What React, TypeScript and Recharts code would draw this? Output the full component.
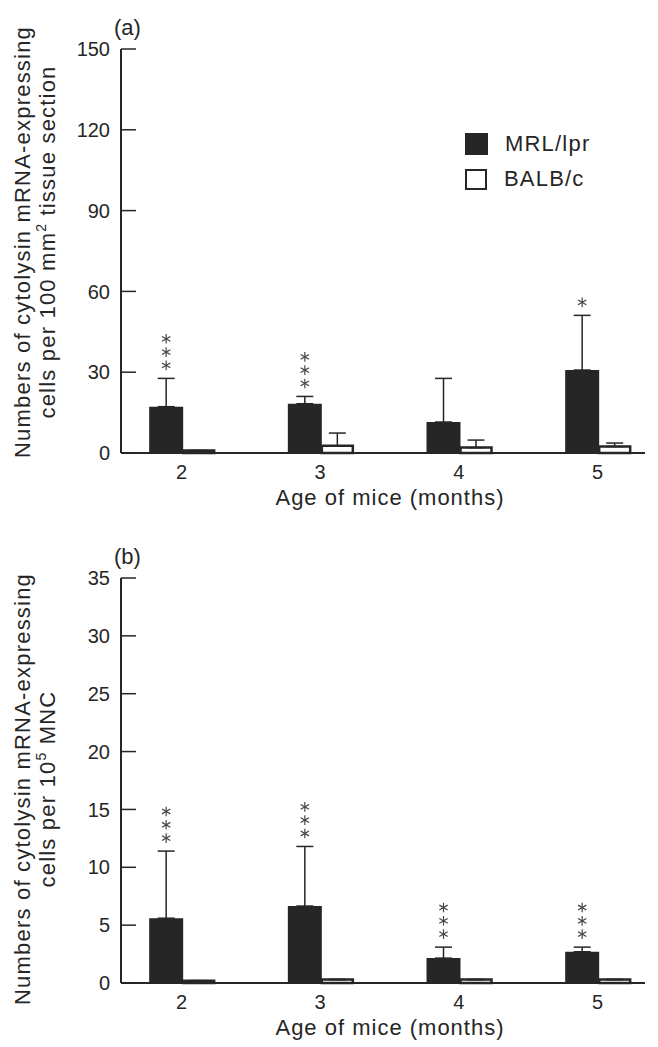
import { BarChart, Bar, XAxis, YAxis, ErrorBar, LabelList, Label } from "recharts";

// ages on the x axis (months)
const ages = [2, 3, 4, 5];

// panel (a): per 100 mm2 tissue section
const tissueMrl = [17.2, 18.3, 11.5, 30.8];
const tissueMrlSd = [10.5, 2.7, 16.2, 20.3];
const tissueBalb = [0.9, 2.7, 2.0, 2.4];
const tissueBalbSd = [0, 4.7, 2.8, 1.3];
const tissueStars = [3, 3, 0, 1];
const tissueTicks = [0, 30, 60, 90, 120, 150];

// panel (b): per 10^5 MNC
const mncMrl = [5.6, 6.65, 2.15, 2.7];
const mncMrlSd = [5.8, 5.15, 0.95, 0.4];
const mncBalb = [0.2, 0.3, 0.3, 0.3];
const mncBalbSd = [0, 0, 0, 0];
const mncStars = [3, 3, 3, 3];
const mncTicks = [0, 5, 10, 15, 20, 25, 30, 35];

const legendItems = [
  { name: "MRL/lpr", filled: true },
  { name: "BALB/c", filled: false },
];

const INK = "#262626";
const FONT = "'Liberation Sans', Arial, Helvetica, sans-serif";
const Y_TICK_GAP = 11;
const Y_AXIS_W = 60;
const X_AXIS_H = 30;

function buildRows(mrl: number[], mrlSd: number[], balb: number[], balbSd: number[]) {
  return ages.map((age, i) => ({
    age,
    mrl: mrl[i],
    balb: balb[i],
    mrlErr: [0, mrlSd[i]],
    balbErr: [0, balbSd[i]],
  }));
}

function Asterisk({ cx, cy }: { cx: number; cy: number }) {
  const r = 4.8;
  const dx = r * Math.cos(Math.PI / 6);
  const dy = r * Math.sin(Math.PI / 6);
  return (
    <g stroke="#444" strokeWidth={1.2}>
      <line x1={cx} y1={cy - r} x2={cx} y2={cy + r} />
      <line x1={cx - dx} y1={cy - dy} x2={cx + dx} y2={cy + dy} />
      <line x1={cx - dx} y1={cy + dy} x2={cx + dx} y2={cy - dy} />
    </g>
  );
}

function starsContent(stars: number[], sd: number[], values: number[]) {
  return (props: any) => {
    const { x, y, width, height, value } = props;
    let idx = props.index;
    if (idx == null) idx = values.indexOf(Number(value));
    const n = stars[idx];
    if (!n) return null;
    const perUnit = height / Number(value);
    const errTop = y - sd[idx] * perUnit;
    const cx = x + width / 2;
    return (
      <g>
        {Array.from({ length: n }, (_, i) => (
          <Asterisk key={i} cx={cx} cy={errTop - 13 - 13.3 * i} />
        ))}
      </g>
    );
  };
}

const YTick = (props: any) => {
  const { x, y, payload } = props;
  const axisX = x + Y_TICK_GAP;
  return (
    <g>
      <line x1={axisX} x2={axisX + 15} y1={y} y2={y} stroke={INK} strokeWidth={1.5} />
      <text x={x} y={y} dy="0.36em" textAnchor="end" fontSize={20} fill={INK} fontFamily={FONT}>
        {payload.value}
      </text>
    </g>
  );
};

type Panel = {
  rows: ReturnType<typeof buildRows>;
  yTicks: number[];
  stars: number[];
  mrlSd: number[];
  mrl: number[];
  top: number;
  height: number;
  plotTop: number;
  plotBottom: number;
  letter: string;
  titleShift: number;
  titleLine2: [string, string, string];
  showLegend?: boolean;
};

function PanelChart(p: Panel) {
  const yMax = p.yTicks[p.yTicks.length - 1];
  const margin = {
    top: p.plotTop,
    right: 13,
    bottom: p.height - p.plotBottom - X_AXIS_H,
    left: 121 - Y_AXIS_W,
  };
  return (
    <div style={{ position: "absolute", left: 0, top: p.top }}>
      <BarChart width={658} height={p.height} data={p.rows} margin={margin} barGap={0}>
        <XAxis
          dataKey="age"
          type="number"
          domain={[1.5637, 5.3425]}
          ticks={ages}
          interval={0}
          height={X_AXIS_H}
          tickLine={false}
          tickSize={0}
          tickMargin={12}
          axisLine={{ stroke: INK, strokeWidth: 2 }}
          tick={{ fill: INK, fontSize: 20, fontFamily: FONT }}
        >
          <Label
            content={(lp: any) => {
              const vb = lp.viewBox;
              return (
                <text
                  x={vb.x + vb.width / 2 + 7}
                  y={vb.y + 52}
                  textAnchor="middle"
                  fontSize={22}
                  letterSpacing={1}
                  fill={INK}
                  fontFamily={FONT}
                >
                  Age of mice (months)
                </text>
              );
            }}
          />
        </XAxis>
        <YAxis
          type="number"
          domain={[0, yMax]}
          ticks={p.yTicks}
          interval={0}
          width={Y_AXIS_W}
          tickLine={false}
          tickSize={0}
          tickMargin={Y_TICK_GAP}
          axisLine={{ stroke: INK, strokeWidth: 2 }}
          tick={<YTick />}
        >
          <Label
            content={(lp: any) => {
              const vb = lp.viewBox;
              const cy = vb.y + vb.height / 2 + p.titleShift;
              const common = {
                textAnchor: "middle" as const,
                fontSize: 22,
                letterSpacing: 1.2,
                fill: INK,
                fontFamily: FONT,
              };
              return (
                <g>
                  <text x={30} y={cy} transform={`rotate(-90, 30, ${cy})`} {...common}>
                    Numbers of cytolysin mRNA-expressing
                  </text>
                  <text x={55} y={cy} transform={`rotate(-90, 55, ${cy})`} {...common}>
                    {p.titleLine2[0]}
                    <tspan dy={-9} fontSize={14}>{p.titleLine2[1]}</tspan>
                    <tspan dy={9}>{p.titleLine2[2]}</tspan>
                  </text>
                </g>
              );
            }}
          />
        </YAxis>
        <Bar dataKey="mrl" fill={INK} barSize={34} isAnimationActive={false}>
          <ErrorBar
            dataKey="mrlErr"
            direction="y"
            width={8.5}
            stroke={INK}
            strokeWidth={1.5}
            isAnimationActive={false}
          />
          <LabelList dataKey="mrl" content={starsContent(p.stars, p.mrlSd, p.mrl)} />
        </Bar>
        <Bar
          dataKey="balb"
          fill="#ffffff"
          stroke={INK}
          strokeWidth={2.5}
          barSize={31}
          isAnimationActive={false}
        >
          <ErrorBar
            dataKey="balbErr"
            direction="y"
            width={8.5}
            stroke={INK}
            strokeWidth={1.5}
            isAnimationActive={false}
          />
        </Bar>
      </BarChart>
      <div
        style={{
          position: "absolute",
          left: 114,
          top: p.plotTop - 32,
          fontSize: 22,
          fontFamily: FONT,
          color: INK,
          lineHeight: "22px",
        }}
      >
        {p.letter}
      </div>
      {p.showLegend && (
        <div style={{ position: "absolute", left: 465, top: 133, fontFamily: FONT, color: INK }}>
          {legendItems.map((it) => (
            <div
              key={it.name}
              style={{ display: "flex", alignItems: "center", height: 22, marginBottom: 13 }}
            >
              <span
                style={{
                  width: it.filled ? 23 : 18,
                  height: it.filled ? 22 : 17,
                  background: it.filled ? INK : "#fff",
                  border: it.filled ? "none" : `2.5px solid ${INK}`,
                  display: "inline-block",
                }}
              />
              <span style={{ marginLeft: 17, fontSize: 22, letterSpacing: 1.2 }}>{it.name}</span>
            </div>
          ))}
        </div>
      )}
    </div>
  );
}

export default function App() {
  const tissueRows = buildRows(tissueMrl, tissueMrlSd, tissueBalb, tissueBalbSd);
  const mncRows = buildRows(mncMrl, mncMrlSd, mncBalb, mncBalbSd);
  return (
    <div
      style={{
        position: "absolute",
        left: 0,
        top: 0,
        width: 658,
        height: 1047,
        background: "#fff",
        overflow: "hidden",
      }}
    >
      <PanelChart
        rows={tissueRows}
        yTicks={tissueTicks}
        stars={tissueStars}
        mrlSd={tissueMrlSd}
        mrl={tissueMrl}
        top={0}
        height={520}
        plotTop={49}
        plotBottom={453}
        letter="(a)"
        titleShift={-9}
        titleLine2={["cells per 100 mm", "2", " tissue section"]}
        showLegend
      />
      <PanelChart
        rows={mncRows}
        yTicks={mncTicks}
        stars={mncStars}
        mrlSd={mncMrlSd}
        mrl={mncMrl}
        top={520}
        height={527}
        plotTop={58}
        plotBottom={463}
        letter="(b)"
        titleShift={8.5}
        titleLine2={["cells per 10", "5", " MNC"]}
      />
    </div>
  );
}
